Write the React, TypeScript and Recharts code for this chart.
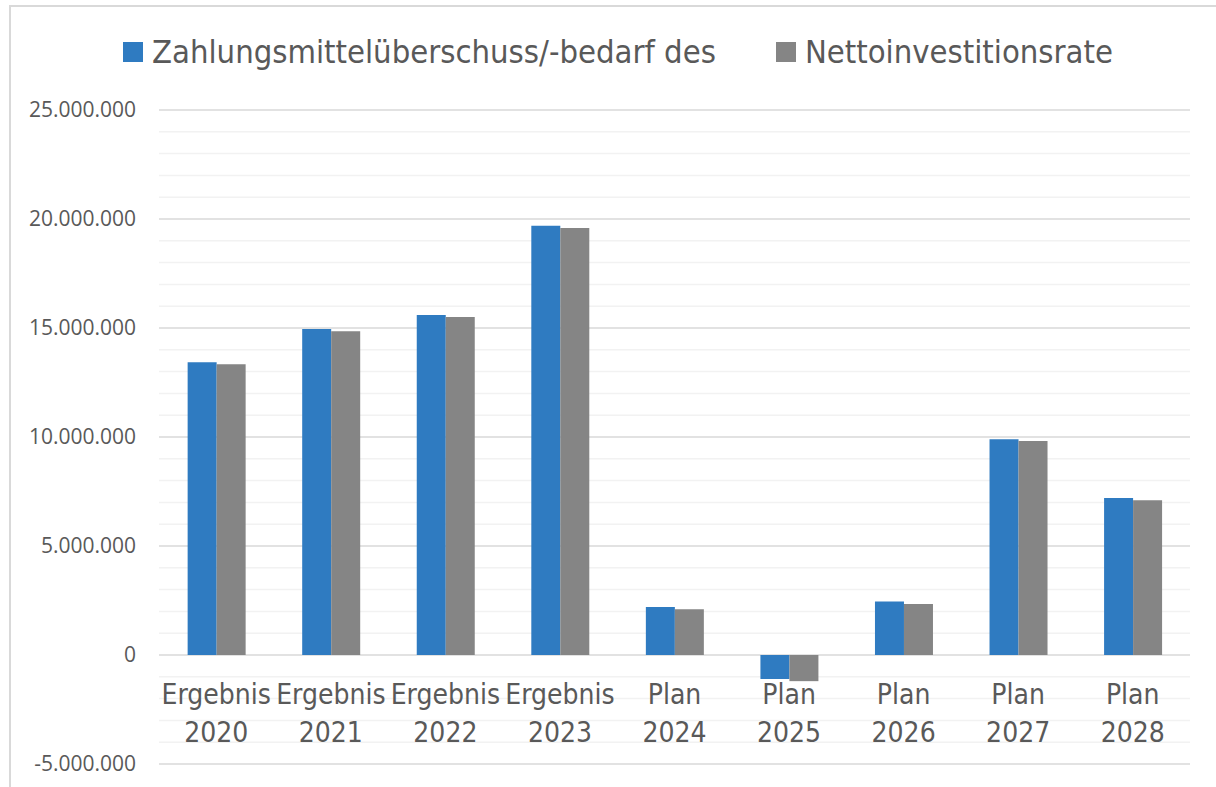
import { BarChart, Bar, XAxis, YAxis, CartesianGrid, Legend } from 'recharts'

const categories = [
  'Ergebnis 2020', 'Ergebnis 2021', 'Ergebnis 2022', 'Ergebnis 2023',
  'Plan 2024', 'Plan 2025', 'Plan 2026', 'Plan 2027', 'Plan 2028',
]
const zahlungsmittel = [13430000, 14950000, 15600000, 19690000, 2200000, -1100000, 2450000, 9900000, 7200000]
const nettoinvest = [13340000, 14850000, 15500000, 19590000, 2100000, -1200000, 2340000, 9820000, 7100000]
const yTicks = [-5000000, 0, 5000000, 10000000, 15000000, 20000000, 25000000]
const minorLines = [
  -4000000, -3000000, -2000000, -1000000,
  1000000, 2000000, 3000000, 4000000,
  6000000, 7000000, 8000000, 9000000,
  11000000, 12000000, 13000000, 14000000,
  16000000, 17000000, 18000000, 19000000,
  21000000, 22000000, 23000000, 24000000,
]

const BLUE = '#2f7bc1'
const GRAY = '#858585'
const TEXT = '#595959'
const NARROW = '"Liberation Sans Narrow", "DejaVu Sans Condensed", sans-serif'

const data = categories.map((c, i) => ({
  name: c,
  zahl: zahlungsmittel[i],
  netto: nettoinvest[i],
}))

const fmt = (v: number) =>
  v < 0 ? '-' + Math.abs(v).toLocaleString('de-DE') : v.toLocaleString('de-DE')

// labels sit at the zero line like in Excel, so shift up from the axis at the bottom
function CatTick({ x, y, payload }: any) {
  const [a, b] = String(payload.value).split(' ')
  return (
    <g>
      <text x={x} y={y - 60} textAnchor="middle" fill={TEXT} fontSize={28} fontFamily={NARROW}>
        {a}
      </text>
      <text x={x} y={y - 22} textAnchor="middle" fill={TEXT} fontSize={28} fontFamily={NARROW}>
        {b}
      </text>
    </g>
  )
}

function LegendBox() {
  const item = (color: string, label: string, ml: number) => (
    <div style={{ display: 'flex', alignItems: 'center', marginLeft: ml }}>
      <span style={{ width: 20, height: 20, background: color, display: 'inline-block', marginRight: 9 }} />
      <span style={{ fontSize: 32.5, color: TEXT, fontFamily: NARROW, lineHeight: '40px' }}>{label}</span>
    </div>
  )
  return (
    <div style={{ display: 'flex', alignItems: 'center', height: 60, paddingLeft: 123 }}>
      {item(BLUE, 'Zahlungsmittelüberschuss/-bedarf des', 0)}
      {item(GRAY, 'Nettoinvestitionsrate', 60)}
    </div>
  )
}

export default function App() {
  return (
    <div style={{ position: 'absolute', left: 0, top: 0, width: 1216, height: 787, background: '#fff' }}>
      <div
        style={{
          position: 'absolute', left: 9, top: 5, width: 1220, height: 800,
          borderTop: '2px solid #d9d9d9', borderLeft: '2px solid #d9d9d9',
        }}
      />
      <div style={{ position: 'absolute', left: 0, top: 0 }}>
        <BarChart
          width={1216}
          height={787}
          data={data}
          margin={{ top: 50, right: 26, left: 0, bottom: 22 }}
          barCategoryGap="25%"
          barGap={0}
        >
          <CartesianGrid vertical={false} horizontalValues={minorLines} stroke="#f2f2f2" strokeWidth={1.5} syncWithTicks={false} />
          <CartesianGrid vertical={false} stroke="#d9d9d9" strokeWidth={1.5} />
          <YAxis
            width={159}
            domain={[-5000000, 25000000]}
            ticks={yTicks}
            tickFormatter={fmt}
            axisLine={false}
            tickLine={false}
            tickSize={0}
            tickMargin={23}
            tick={{ fill: TEXT, fontSize: 21, fontFamily: '"Open Sans", sans-serif' }}
            interval={0}
          />
          <XAxis
            dataKey="name"
            height={1}
            axisLine={false}
            tickLine={false}
            tickSize={0}
            tickMargin={0}
            interval={0}
            tick={(props: any) => <CatTick {...props} />}
          />
          <Legend
            verticalAlign="top"
            content={<LegendBox />}
            wrapperStyle={{ top: 22, left: 0, width: 1216, height: 60 }}
          />
          <Bar dataKey="zahl" name="Zahlungsmittelüberschuss/-bedarf des" fill={BLUE} isAnimationActive={false} />
          <Bar dataKey="netto" name="Nettoinvestitionsrate" fill={GRAY} isAnimationActive={false} />
        </BarChart>
      </div>
    </div>
  )
}
